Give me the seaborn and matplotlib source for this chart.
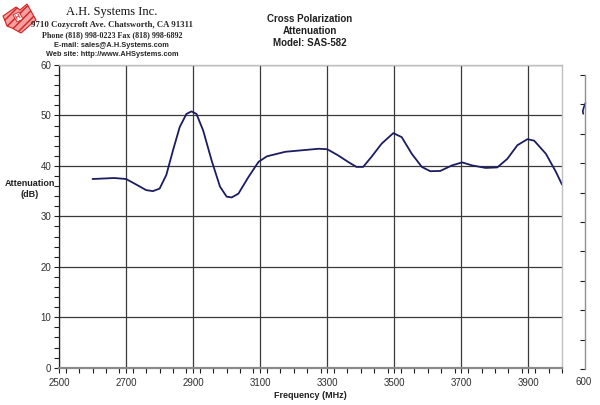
import matplotlib
matplotlib.use("Agg")
import matplotlib.pyplot as plt
from matplotlib.patches import Polygon
from matplotlib.ticker import MultipleLocator
import seaborn as sns
import pandas as pd

freq = [2600, 2665, 2700, 2725, 2760, 2780, 2800, 2820, 2840, 2860, 2880, 2895,
        2910, 2930, 2955, 2980, 3000, 3015, 3035, 3065, 3095, 3120, 3175, 3225,
        3275, 3300, 3332, 3362, 3387, 3407, 3432, 3462, 3497, 3522, 3552, 3582,
        3607, 3637, 3672, 3702, 3732, 3772, 3807, 3837, 3867, 3897, 3917, 3952,
        3982, 4000]
atten = [37.4, 37.6, 37.4, 36.5, 35.2, 35.0, 35.5, 38.2, 43.1, 47.7, 50.3, 50.8,
         50.3, 47.0, 41.1, 35.9, 33.9, 33.75, 34.5, 37.8, 40.8, 41.9, 42.8, 43.1,
         43.4, 43.3, 42.1, 40.8, 39.8, 39.8, 41.8, 44.4, 46.5, 45.7, 42.4, 39.8,
         38.95, 39.0, 40.1, 40.7, 40.1, 39.6, 39.7, 41.4, 44.1, 45.3, 45.0, 42.4,
         38.8, 36.3]

x_ticks = [2500, 2700, 2900, 3100, 3300, 3500, 3700, 3900]
y_ticks = [0, 10, 20, 30, 40, 50, 60]

# stray piece of a second series on the secondary axis
sec_x = [0.5, -1.0, -2.2, -1.8]
sec_y = [1505, 1492, 1478, 1468]

header = ["9710 Cozycroft Ave. Chatsworth, CA 91311",
          "Phone (818) 998-0223 Fax (818) 998-6892"]
contact = ["E-mail: sales@A.H.Systems.com",
           "Web site: http://www.AHSystems.com"]

sns.set_style("white")
plt.rcParams["font.family"] = ["Liberation Sans", "DejaVu Sans"]

W, H = 600, 405
fig = plt.figure(figsize=(W / 100, H / 100), dpi=100)
ax = fig.add_axes([59 / W, 1 - 367.7 / H, (562 - 59) / W, (367.7 - 65) / H])

df = pd.DataFrame({"freq": freq, "atten": atten})
sns.lineplot(data=df, x="freq", y="atten", ax=ax, color="#1c1c60", lw=1.3)

ax.set_xlim(2500, 4000)
ax.set_ylim(0, 60)
ax.set_xticks(x_ticks)
ax.set_yticks(y_ticks)
ax.xaxis.set_minor_locator(MultipleLocator(40))
ax.yaxis.set_minor_locator(MultipleLocator(2))
ax.tick_params(axis="both", which="both", direction="out", length=3.5, width=0.8,
               color="#202020", labelsize=7, labelcolor="#303030", pad=2,
               bottom=True, left=True, top=False, right=False)
ax.tick_params(axis="x", which="major", pad=4)
ax.grid(True, which="major", color="#3a3a3a", lw=0.9)
ax.grid(False, which="minor")
ax.set_xlabel("")
ax.set_ylabel("")
for side in ["top", "right"]:
    ax.spines[side].set_color("#c0c0c0")
    ax.spines[side].set_linewidth(1)
ax.spines["left"].set_color("#202020")
ax.spines["left"].set_linewidth(0.9)
ax.spines["bottom"].set_color("#8a8a8a")
ax.spines["bottom"].set_linewidth(1.6)

fig.text(310 / W, 1 - 396 / H, "Frequency (MHz)", ha="center", va="center",
         fontsize=6.5, fontweight="bold", color="#202020")
fig.text(30 / W, 1 - 189 / H, "Attenuation\n(dB)", ha="center", va="center",
         fontsize=6.5, fontweight="bold", color="#202020", linespacing=1.3)
fig.text(310 / W, 1 - 31 / H, "Cross Polarization\nAttenuation\nModel: SAS-582",
         ha="center", va="center", fontsize=7, fontweight="bold",
         color="#202020", linespacing=1.25)

# company header
fig.text(112 / W, 1 - 12 / H, "A.H. Systems Inc.", ha="center", va="center",
         fontsize=9, family="Liberation Serif", color="#101010")
fig.text(112 / W, 1 - 25 / H, header[0], ha="center", va="center",
         fontsize=6.3, fontweight="bold", family="Liberation Serif")
fig.text(112 / W, 1 - 35.5 / H, header[1], ha="center", va="center",
         fontsize=5.8, fontweight="bold", family="Liberation Serif")
fig.text(111 / W, 1 - 45.5 / H, contact[0], ha="center", va="center",
         fontsize=5.3, fontweight="bold")
fig.text(112 / W, 1 - 54.5 / H, contact[1], ha="center", va="center",
         fontsize=5.3, fontweight="bold")

# logo
logo = [(3, 16), (16, 7), (20, 10), (27, 4), (36, 20), (21, 33), (12, 28), (7, 26)]
fig.patches.append(Polygon([(px / W, 1 - py / H) for px, py in logo], closed=True,
                           transform=fig.transFigure, facecolor="#f2a0a0",
                           edgecolor="#d42020", hatch="////", lw=0.8))
fig.patches.append(Polygon([(px / W, 1 - py / H) for px, py in
                            [(13, 15), (19, 12), (23, 19), (17, 22)]], closed=True,
                           transform=fig.transFigure, facecolor="white",
                           edgecolor="#d42020", lw=0.6))
fig.text(18 / W, 1 - 17 / H, "H", ha="center", va="center", fontsize=5,
         fontweight="bold", color="#d42020", rotation=30)

# secondary axis on the right
ax2 = fig.add_axes([575 / W, 1 - 369 / H, 20 / W, (369 - 75) / H])
ax2.patch.set_visible(False)
ax2.plot(sec_x, sec_y, color="#1c1c60", lw=1.2)
ax2.set_xlim(-10, 10)
ax2.set_ylim(600, 1600)
ax2.spines["left"].set_position(("data", 0))
ax2.spines["left"].set_color("#909090")
ax2.spines["left"].set_linewidth(1)
for side in ["top", "right", "bottom"]:
    ax2.spines[side].set_visible(False)
ax2.set_xticks([])
ax2.set_yticks(range(600, 1601, 100))
ax2.set_yticklabels([])
ax2.tick_params(axis="y", direction="out", length=3.5, width=0.8, color="#202020",
                left=True, right=False)
fig.text(584 / W, 1 - 382 / H, "600", ha="center", va="center", fontsize=7,
         color="#303030")

fig.savefig("out.png", dpi=100)
